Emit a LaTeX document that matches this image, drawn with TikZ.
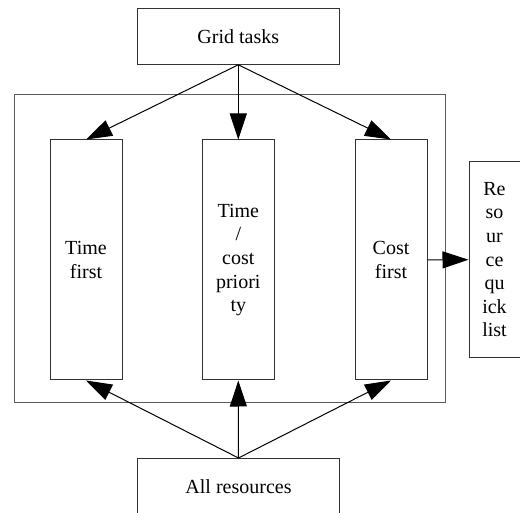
\documentclass[tikz,border=0pt]{standalone}
\usepackage{fontspec}
\setmainfont{Liberation Serif}
\usepackage{tikz}
\usetikzlibrary{arrows.meta,positioning}
\definecolor{boxline}{RGB}{50,50,50}
\tikzset{
  taskbox/.style={draw=boxline,line width=0.5pt,minimum width=100.8pt,minimum height=28pt,
    align=center,inner sep=0pt,font=\fontsize{10}{11.8}\selectfont},
  stratbox/.style={taskbox,minimum width=36pt,minimum height=120pt},
  listbox/.style={taskbox,minimum width=25.5pt,minimum height=98pt},
  framebox/.style={draw=boxline!80,line width=0.5pt,minimum width=215.9pt,minimum height=153.9pt,inner sep=0pt},
  flow/.style={-{Triangle[length=13pt,width=8.5pt]},line width=0.5pt,draw=black}
}
\begin{document}
\begin{tikzpicture}[x=0.5pt,y=-0.5pt]
  \useasboundingbox (0,0) rectangle (520,513);
  \node[framebox] (frame) at (229.9,248.9) {};
  \node[taskbox] (grid) at (238.3,36.3) {Grid tasks};
  \node[stratbox] (timefirst) at (86,260) {Time\\first};
  \node[stratbox] (balance) at (238.3,260) {Time\\/\\cost\\priori\\ty};
  \node[stratbox] (costfirst) at (391,260) {Cost\\first};
  \node[listbox] (quick) at (494.5,259.7) {Re\\so\\ur\\ce\\qu\\ick\\list};
  \node[taskbox] (allres) at (238.5,486.5) {All resources};
  \foreach \s in {timefirst,balance,costfirst}{
    \draw[flow] (grid.south) -- (\s.north);
    \draw[flow] (allres.north) -- (\s.south);
  }
  \draw[flow] (costfirst.east) -- (quick.west);
\end{tikzpicture}
\end{document}
